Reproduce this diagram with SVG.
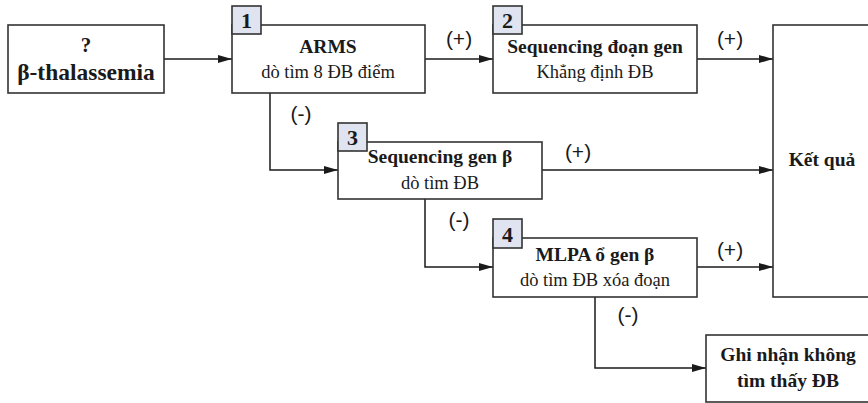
<svg xmlns="http://www.w3.org/2000/svg" width="868" height="403" viewBox="0 0 868 403">
<defs>
<marker id="ah" markerWidth="14" markerHeight="8" refX="14" refY="4" orient="auto" markerUnits="userSpaceOnUse">
<path d="M0,0 L14,4 L0,8 Z" fill="#1a1a1a"/>
</marker>
<style>
.box{fill:#fff;stroke:#333;stroke-width:1.6}
.tag{fill:#dfe4f0;stroke:#333;stroke-width:1.6}
.num{font-family:'Liberation Serif',serif;font-weight:bold;font-size:22px;fill:#1a1a1a;text-anchor:middle}
.b{font-family:'Liberation Serif',serif;font-weight:bold;font-size:19.5px;fill:#1a1a1a;text-anchor:middle}
.r{font-family:'Liberation Serif',serif;font-size:18.5px;fill:#1a1a1a;text-anchor:middle}
.lbl{font-family:'Liberation Sans',sans-serif;font-size:21px;fill:#1a1a1a;text-anchor:middle}
.c{fill:none;stroke:#1a1a1a;stroke-width:1.5;marker-end:url(#ah)}
</style>
</defs>
<rect width="868" height="403" fill="#fff"/>
<g id="connectors">
<path class="c" d="M164,59 H232"/>
<path class="c" d="M425,59 H493"/>
<path class="c" d="M697,59 H773"/>
<path class="c" d="M270,93 V170 H338"/>
<path class="c" d="M542,170 H773"/>
<path class="c" d="M425,199 V267 H493"/>
<path class="c" d="M697,267 H773"/>
<path class="c" d="M595,297 V368 H706"/>
<text class="lbl" x="459" y="46">(+)</text>
<text class="lbl" x="730" y="46">(+)</text>
<text class="lbl" x="301" y="121">(-)</text>
<text class="lbl" x="578" y="159">(+)</text>
<text class="lbl" x="459" y="227">(-)</text>
<text class="lbl" x="730" y="257">(+)</text>
<text class="lbl" x="628" y="322">(-)</text>
</g>
<g id="start">
<rect class="box" x="8" y="25" width="156" height="68"/>
<text class="b" x="86" y="52" style="font-size:21px">?</text>
<text class="b" x="86" y="80" style="font-size:23.5px">β-thalassemia</text>
</g>
<g id="step1">
<rect class="box" x="232" y="25" width="193" height="68"/>
<rect class="tag" x="232" y="6" width="29" height="28"/>
<text class="num" x="246.5" y="28">1</text>
<text class="b" x="328" y="53">ARMS</text>
<text class="r" x="328" y="78">dò tìm 8 ĐB điểm</text>
</g>
<g id="step2">
<rect class="box" x="493" y="25" width="204" height="68"/>
<rect class="tag" x="493" y="6" width="29" height="28"/>
<text class="num" x="507.5" y="28">2</text>
<text class="b" x="595" y="53">Sequencing đoạn gen</text>
<text class="r" x="595" y="78">Khẳng định ĐB</text>
</g>
<g id="step3">
<rect class="box" x="338" y="142" width="204" height="57"/>
<rect class="tag" x="338" y="123" width="29" height="28"/>
<text class="num" x="352.5" y="145">3</text>
<text class="b" x="440" y="163">Sequencing gen β</text>
<text class="r" x="440" y="189">dò tìm ĐB</text>
</g>
<g id="step4">
<rect class="box" x="493" y="238" width="204" height="59"/>
<rect class="tag" x="493" y="219" width="29" height="29"/>
<text class="num" x="507.5" y="242">4</text>
<text class="b" x="595" y="261">MLPA ổ gen β</text>
<text class="r" x="595" y="286">dò tìm ĐB xóa đoạn</text>
</g>
<g id="result">
<rect class="box" x="773" y="25" width="110" height="272"/>
<text class="b" x="822" y="166">Kết quả</text>
</g>
<g id="none">
<rect class="box" x="706" y="335" width="175" height="67"/>
<text class="b" x="788" y="361">Ghi nhận không</text>
<text class="b" x="788" y="387">tìm thấy ĐB</text>
</g>
</svg>
